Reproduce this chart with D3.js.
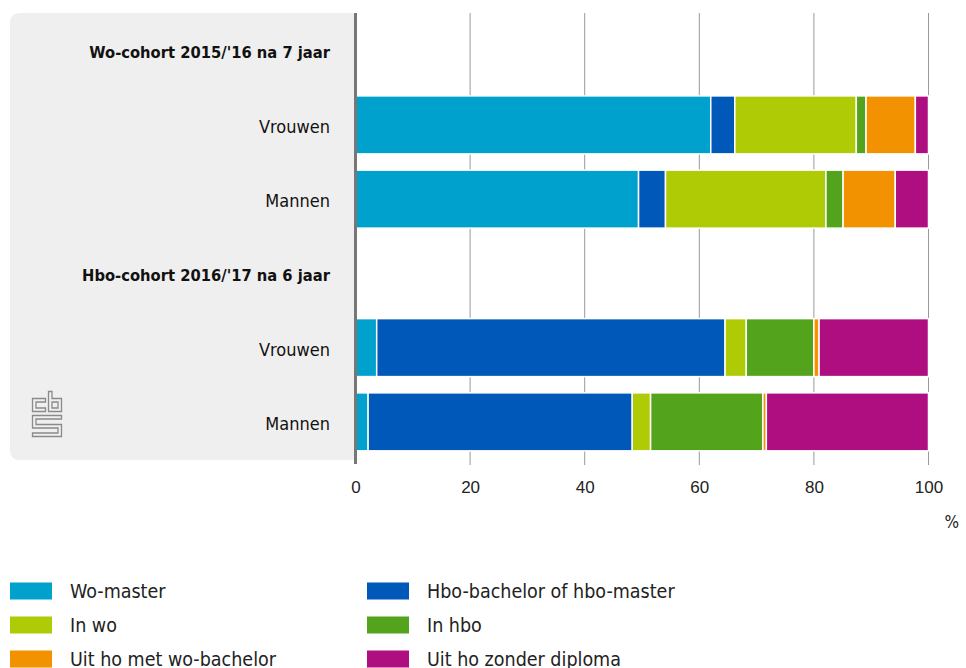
<!DOCTYPE html>
<html><head><meta charset="utf-8">
<script src="https://cdn.jsdelivr.net/npm/d3@7"></script>
<style>body{margin:0;background:#fff;}svg{display:block;font-family:"DejaVu Sans Condensed","Liberation Sans Narrow","Roboto",sans-serif;}</style>
</head><body><svg id="c" width="966" height="668"></svg>
<script>
const rows = ["g1","wV","wM","g2","hV","hM"];
const rowLabels = ["Wo-cohort 2015/'16 na 7 jaar","Vrouwen","Mannen","Hbo-cohort 2016/'17 na 6 jaar","Vrouwen","Mannen"];
const headerRows = ["g1","g2"];
const barRows = ["wV","wM","hV","hM"];
const seriesNames = ["Wo-master","Hbo-bachelor of hbo-master","In wo","In hbo","Uit ho met wo-bachelor","Uit ho zonder diploma"];
const seriesColors = ["#00a1cd","#0058b8","#afcb05","#53a31d","#f39200","#af0e80"];
const woMaster   = [62.0, 49.4, 3.7, 2.2];
const hboBachelor= [4.2, 4.7, 60.8, 46.1];
const inWo       = [21.2, 28.0, 3.7, 3.2];
const inHbo      = [1.7, 3.0, 11.8, 19.6];
const uitWoBach  = [8.6, 9.1, 0.9, 0.6];
const uitZonder  = [2.3, 5.8, 19.1, 28.3];
const xTicks = [0,20,40,60,80,100];

const seriesValues = [woMaster,hboBachelor,inWo,inHbo,uitWoBach,uitZonder];
const table = barRows.map((r,i)=>{const o={row:r}; seriesNames.forEach((s,j)=>o[s]=seriesValues[j][i]); return o;});

const svg = d3.select("#c");
const x = d3.scaleLinear().domain([0,100]).range([355.5,928.5]);
const y = d3.scaleBand().domain(rows).range([13.5,459]).paddingInner(0.219).paddingOuter(0.11);
const pTop=13, pBottom=460;

// panel
svg.append("path").attr("d",`M356,${pTop} H20 Q10,${pTop} 10,${pTop+10} V${pBottom-10} Q10,${pBottom} 20,${pBottom} H356 Z`).attr("fill","#efefef");

// grid
svg.append("g").selectAll("line").data(xTicks.filter(d=>d>0)).join("line")
 .attr("x1",d=>x(d)).attr("x2",d=>x(d)).attr("y1",pTop).attr("y2",pBottom+5)
 .attr("stroke","#999").attr("stroke-width",1);

// bars
const stack = d3.stack().keys(seriesNames)(table);
svg.append("g").selectAll("g").data(stack).join("g").attr("fill",(d,i)=>seriesColors[i])
 .selectAll("rect").data(d=>d).join("rect")
 .attr("x",d=>x(d[0])).attr("width",d=>x(d[1])-x(d[0]))
 .attr("y",d=>y(d.data.row)).attr("height",y.bandwidth())
 .attr("stroke","#fff").attr("stroke-width",1.5);

// axis line
svg.append("line").attr("x1",355.5).attr("x2",355.5).attr("y1",pTop).attr("y2",pBottom+4).attr("stroke","#777").attr("stroke-width",3);

// row labels
svg.append("g").selectAll("text").data(rows).join("text")
 .attr("x",330).attr("y",d=>y(d)+y.bandwidth()/2+2).attr("dy","0.35em").attr("text-anchor","end")
 .attr("font-size",d=>headerRows.includes(d)?16.4:18).attr("fill","#111")
 .attr("font-weight",d=>headerRows.includes(d)?"bold":"normal")
 .text((d,i)=>rowLabels[i]);

// x tick labels
const xAxis = d3.axisBottom(x).tickValues(xTicks).tickSize(0).tickPadding(0);
const ax = svg.append("g").attr("transform",`translate(0,${pBottom})`).call(xAxis);
ax.select(".domain").remove();
ax.selectAll("text").attr("font-size",17).attr("fill","#222").attr("y",27).attr("dy","0.35em").style("font-family","inherit");
svg.append("text").attr("x",959).attr("y",522).attr("dy","0.35em").attr("text-anchor","end").attr("font-size",17).attr("fill","#222").text("%");

// legend
const lg = svg.append("g").selectAll("g").data(seriesNames).join("g")
 .attr("transform",(d,i)=>`translate(${i%2===0?10:367},${591+Math.floor(i/2)*34})`);
lg.append("rect").attr("x",0).attr("y",-8.5).attr("width",42).attr("height",17).attr("fill",(d,i)=>seriesColors[i]);
lg.append("text").attr("x",60).attr("y",0).attr("dy","0.35em").attr("font-size",19.5).attr("fill","#222").text(d=>d);

// CBS logo
const logo = svg.append("g").attr("fill","none").attr("stroke","#8a8a8a").attr("stroke-width",1.3);
logo.append("path").attr("d","M32.5,398.5 H45.5 V402 H36 V408 H45.5 V411.5 H32.5 Z");
logo.append("path").attr("d","M48.5,391.5 H52 V398.5 H61.5 V411.5 H48.5 Z M52,402 H58 V408 H52 Z");
logo.append("path").attr("d","M32.5,415.5 H61.5 V419 H36 V424.5 H61.5 V436.5 H32.5 V433 H58 V428 H32.5 Z");
</script></body></html>
